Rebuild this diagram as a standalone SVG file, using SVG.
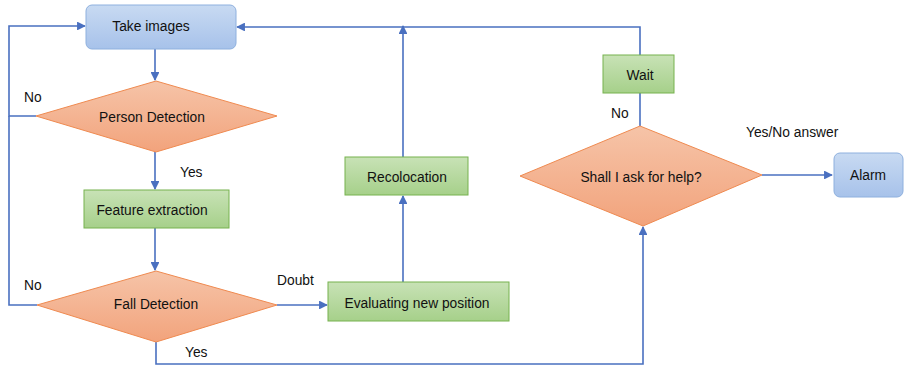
<svg xmlns="http://www.w3.org/2000/svg" width="904" height="367" viewBox="0 0 904 367">
  <style>
    text { font-family: "Liberation Sans", Arial, sans-serif; font-size: 13.8px; fill: #111111; }
    .lbl { text-anchor: middle; dominant-baseline: central; }
    .blue { fill: url(#gBlue); stroke: #8eb0de; stroke-width: 1; }
    .green { fill: url(#gGreen); stroke: #77b24e; stroke-width: 1; }
    .orange { fill: url(#gOrange); stroke: #ef8a50; stroke-width: 1; }
    .conn { fill: none; stroke: #4a70c0; stroke-width: 1.6; }
    .arr { marker-end: url(#ah); }
  </style>
  <defs>
    <linearGradient id="gBlue" x1="0" y1="0" x2="0" y2="1">
      <stop offset="0" stop-color="#c8daf2"/>
      <stop offset="1" stop-color="#a7c2ea"/>
    </linearGradient>
    <linearGradient id="gGreen" x1="0" y1="0" x2="0" y2="1">
      <stop offset="0" stop-color="#c8e2b6"/>
      <stop offset="1" stop-color="#a6d08a"/>
    </linearGradient>
    <linearGradient id="gOrange" x1="0" y1="0" x2="0" y2="1">
      <stop offset="0" stop-color="#f6c4a8"/>
      <stop offset="1" stop-color="#f2a37c"/>
    </linearGradient>
    <marker id="ah" viewBox="0 0 10 10" refX="9" refY="5" markerWidth="5.5" markerHeight="5.5" orient="auto" markerUnits="strokeWidth">
      <path d="M0,0 L10,5 L0,10 z" fill="#4a70c0"/>
    </marker>
  </defs>

  <!-- connectors -->
  <g id="connectors">
    <line class="conn arr" x1="155" y1="49" x2="155" y2="80"/>
    <line class="conn arr" x1="155" y1="152" x2="155" y2="189"/>
    <line class="conn arr" x1="155" y1="228" x2="155" y2="270"/>
    <polyline class="conn arr" points="36,116 9,116 9,26 85,26"/>
    <polyline class="conn" points="37,305 9,305 9,116"/>
    <line class="conn arr" x1="277" y1="305" x2="327" y2="305"/>
    <line class="conn arr" x1="403" y1="282" x2="403" y2="196"/>
    <line class="conn arr" x1="403" y1="157" x2="403" y2="26"/>
    <polyline class="conn arr" points="640,55 640,27 237,27"/>
    <line class="conn" x1="640" y1="93" x2="640" y2="126"/>
    <polyline class="conn arr" points="156,342 156,364 643,364 643,227"/>
    <line class="conn arr" x1="762" y1="175" x2="832" y2="175"/>
  </g>

  <!-- nodes -->
  <g id="take-images">
    <rect class="blue" x="86" y="5" width="150" height="44" rx="6"/>
    <text class="lbl" x="151" y="26">Take images</text>
  </g>
  <g id="person-detection">
    <polygon class="orange" points="156,81 277,116 156,152 36,116"/>
    <text class="lbl" x="152" y="117">Person Detection</text>
  </g>
  <g id="feature-extraction">
    <rect class="green" x="84" y="190" width="145" height="38"/>
    <text class="lbl" x="152" y="210">Feature extraction</text>
  </g>
  <g id="fall-detection">
    <polygon class="orange" points="156,271 277,305 156,342 37,305"/>
    <text class="lbl" x="156" y="304">Fall Detection</text>
  </g>
  <g id="evaluating">
    <rect class="green" x="328" y="282" width="181" height="39"/>
    <text class="lbl" x="417" y="303">Evaluating new position</text>
  </g>
  <g id="recolocation">
    <rect class="green" x="345" y="157" width="123" height="38"/>
    <text class="lbl" x="407" y="177">Recolocation</text>
  </g>
  <g id="wait">
    <rect class="green" x="603" y="55" width="71" height="38"/>
    <text class="lbl" x="640" y="75">Wait</text>
  </g>
  <g id="ask-help">
    <polygon class="orange" points="640,126 762,175 643,226 520,176"/>
    <text class="lbl" x="641" y="177">Shall I ask for help?</text>
  </g>
  <g id="alarm">
    <rect class="blue" x="834" y="153" width="69" height="44" rx="6"/>
    <text class="lbl" x="868" y="175">Alarm</text>
  </g>

  <!-- edge labels -->
  <g id="edge-labels">
    <text x="24" y="102">No</text>
    <text x="180" y="177">Yes</text>
    <text x="24" y="290">No</text>
    <text x="277" y="285">Doubt</text>
    <text x="185" y="357">Yes</text>
    <text x="611" y="118">No</text>
    <text x="746" y="137">Yes/No answer</text>
  </g>
</svg>
